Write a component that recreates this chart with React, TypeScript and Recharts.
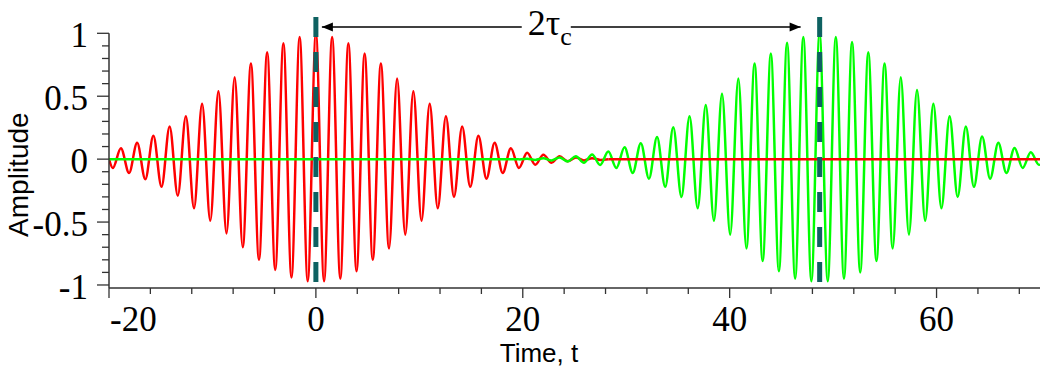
import { LineChart, Line, XAxis, YAxis, ReferenceLine } from "recharts";

// wave packet extrema (time, amplitude)
const redTime = [
  -20, -19.63, -18.85, -18.06, -17.28, -16.49, -15.71, -14.92, -14.14, -13.35, -12.57, -11.78, -11.0,
  -10.21, -9.42, -8.64, -7.85, -7.07, -6.28, -5.5, -4.71, -3.93, -3.14, -2.36, -1.57, -0.79, 0, 0.79,
  1.57, 2.36, 3.14, 3.93, 4.71, 5.5, 6.28, 7.07, 7.85, 8.64, 9.42, 10.21, 11.0, 11.78, 12.57, 13.35,
  14.14, 14.92, 15.71, 16.49, 17.28, 18.06, 18.85, 19.63, 20.42, 21.21, 21.99, 22.78, 23.56, 24.35,
  25.13, 25.92, 26.7, 27.49, 28.27,
];
const redAmp = [
  0, -0.07, 0.087, -0.11, 0.13, -0.16, 0.185, -0.22, 0.26, -0.29, 0.34, -0.39, 0.44, -0.49, 0.54,
  -0.59, 0.65, -0.7, 0.76, -0.8, 0.85, -0.88, 0.92, -0.94, 0.97, -0.97, 1.0, -0.97, 0.97, -0.95, 0.92,
  -0.89, 0.84, -0.8, 0.76, -0.71, 0.64, -0.6, 0.54, -0.49, 0.44, -0.39, 0.34, -0.3, 0.26, -0.22,
  0.185, -0.155, 0.13, -0.11, 0.087, -0.07, 0.05, -0.045, 0.035, -0.028, 0.022, -0.017, 0.013,
  -0.01, 0.008, -0.006, 0,
];
const greenTime = [
  19.63, 20.42, 21.2, 21.99, 22.77, 23.56, 24.34, 25.13, 25.91, 26.7, 27.48, 28.27, 29.05, 29.84,
  30.63, 31.41, 32.2, 32.98, 33.77, 34.55, 35.34, 36.12, 36.91, 37.69, 38.48, 39.26, 40.05, 40.84,
  41.62, 42.41, 43.19, 43.98, 44.76, 45.55, 46.33, 47.12, 47.9, 48.69, 49.48, 50.26, 51.05, 51.83,
  52.62, 53.4, 54.19, 54.97, 55.76, 56.54, 57.33, 58.11, 58.9, 59.69, 60.47, 61.26, 62.04, 62.83,
  63.61, 64.4, 65.18, 65.97, 66.75, 67.54, 68.32, 69.11, 69.9, 70,
];
const greenAmp = [
  -0.003, 0.004, -0.006, 0.008, -0.011, 0.014, -0.018, 0.023, -0.029, 0.037, -0.046, 0.06, -0.07,
  0.095, -0.11, 0.127, -0.155, 0.175, -0.22, 0.254, -0.3, 0.34, -0.39, 0.43, -0.49, 0.52, -0.6,
  0.64, -0.71, 0.76, -0.81, 0.84, -0.89, 0.925, -0.95, 0.97, -0.97, 1.0, -0.97, 0.97, -0.95, 0.93,
  -0.9, 0.85, -0.81, 0.76, -0.71, 0.65, -0.6, 0.55, -0.49, 0.44, -0.39, 0.34, -0.3, 0.26, -0.22,
  0.18, -0.155, 0.13, -0.11, 0.088, -0.07, 0.055, -0.045, -0.04,
];
// flat parts of each trace (drawn on top of the other wave)
const greenFlatTime = [-20, 19.63];
const greenFlatAmp = [0, 0];
const redFlatTime = [28.27, 70];
const redFlatAmp = [0, 0];

const xTicks = [-20, -16, -12, -8, -4, 0, 4, 8, 12, 16, 20, 24, 28, 32, 36, 40, 44, 48, 52, 56, 60, 64, 68];
const xMajor = [-20, 0, 20, 40, 60];
const yTicks = [-1, -0.9, -0.8, -0.7, -0.6, -0.5, -0.4, -0.3, -0.2, -0.1, 0, 0.1, 0.2, 0.3, 0.4, 0.5, 0.6, 0.7, 0.8, 0.9, 1];
const yMajor = [-1, -0.5, 0, 0.5, 1];

// annotation: pulse centres and the 2τc arrow
const centres = [0, 48.7];
const arrowLeft = [0.58, 19.9];
const arrowRight = [24.64, 46.86];

const zip = (t: number[], a: number[]) => t.map((v, i) => ({ t: v, a: a[i] }));

const serif = { fontFamily: '"Liberation Serif", "Times New Roman", "DejaVu Serif", serif' };
const sans = { fontFamily: '"Liberation Sans", Arial, sans-serif' };
const axisColor = "#333";

const XTick = (props: any) => {
  const { x, y, payload } = props;
  const v = payload.value;
  const major = xMajor.includes(v);
  return (
    <g>
      <line x1={x} x2={x} y1={y} y2={y + (major ? 10 : 6)} stroke={axisColor} strokeWidth={1.3} />
      {major && (
        <text
          x={v === -20 ? x + 1 : x}
          y={y + 43}
          textAnchor={v === -20 ? "start" : "middle"}
          style={serif}
          fontSize={35}
          fill="#000"
        >
          {String(v)}
        </text>
      )}
    </g>
  );
};

const YTick = (props: any) => {
  const { x, y, payload } = props;
  const v = payload.value;
  const major = yMajor.includes(v);
  return (
    <g>
      <line x1={x - (major ? 12 : 7)} x2={x} y1={y} y2={y} stroke={axisColor} strokeWidth={1.3} />
      {major && (
        <text x={x - 21} y={y + 14} textAnchor="end" style={serif} fontSize={35} fill="#000">
          {String(v)}
        </text>
      )}
    </g>
  );
};

const arrowShape = (head: "start" | "end", withText: boolean) => (p: any) => {
  const { x1, y1, x2 } = p;
  const tip = head === "start" ? x1 : x2;
  const dir = head === "start" ? 1 : -1;
  return (
    <g>
      <line x1={x1} x2={x2} y1={y1} y2={y1} stroke="#000" strokeWidth={1.5} />
      <polygon points={`${tip},${y1} ${tip + dir * 11},${y1 - 4.5} ${tip + dir * 11},${y1 + 4.5}`} fill="#000" />
      {withText && (
        <text x={x2 + 6} y={y1 + 8} style={serif} fontSize={36} fill="#000">
          2τ
          <tspan fontSize={26} dy={10}>
            c
          </tspan>
        </text>
      )}
    </g>
  );
};

const lineProps = { dataKey: "a", strokeWidth: 2.5, dot: false, activeDot: false, isAnimationActive: false } as const;

export default function App() {
  return (
    <div style={{ position: "absolute", left: 0, top: 0, width: 1048, height: 371, background: "#fff" }}>
      <LineChart width={1048} height={371} margin={{ top: 33.3, right: 8, bottom: 0, left: 0 }}>
        <XAxis
          dataKey="t"
          type="number"
          domain={[-20, 70]}
          allowDataOverflow
          ticks={xTicks}
          interval={0}
          tickSize={0}
          tickMargin={0}
          tickLine={false}
          tick={XTick}
          height={83}
          axisLine={{ stroke: axisColor, strokeWidth: 1.5 }}
          label={(p: any) => (
            <text
              x={p.viewBox.x + 430}
              y={p.viewBox.y + 74}
              textAnchor="middle"
              style={sans}
              fontSize={26}
              fill="#000"
            >
              Time, t
            </text>
          )}
        />
        <YAxis
          type="number"
          domain={[-1.024, 1]}
          allowDataOverflow
          ticks={yTicks}
          interval={0}
          tickSize={0}
          tickMargin={0}
          tickLine={false}
          tick={YTick}
          width={109}
          axisLine={{ stroke: axisColor, strokeWidth: 1.5 }}
          label={(p: any) => {
            const cx = p.viewBox.x + 28;
            const cy = p.viewBox.y + p.viewBox.height / 2 + 14;
            return (
              <text
                x={cx}
                y={cy}
                transform={`rotate(-90 ${cx} ${cy})`}
                textAnchor="middle"
                style={sans}
                fontSize={28}
                fill="#000"
              >
                Amplitude
              </text>
            );
          }}
        />
        <Line {...lineProps} data={zip(redTime, redAmp)} type="monotone" stroke="#ff0000" />
        <Line {...lineProps} data={zip(greenTime, greenAmp)} type="monotone" stroke="#00ff00" />
        <Line {...lineProps} data={zip(greenFlatTime, greenFlatAmp)} type="linear" stroke="#00ff00" />
        <Line {...lineProps} data={zip(redFlatTime, redFlatAmp)} type="linear" stroke="#ff0000" />
        {centres.map((c) => (
          <ReferenceLine
            key={c}
            segment={[{ x: c, y: 1.13 }, { x: c, y: -0.98 }]}
            ifOverflow="visible"
            stroke="#0e6161"
            strokeWidth={5}
            strokeDasharray="20 15"
          />
        ))}
        <ReferenceLine
          segment={[{ x: arrowLeft[0], y: 1.05 }, { x: arrowLeft[1], y: 1.05 }]}
          ifOverflow="visible"
          shape={arrowShape("start", true)}
        />
        <ReferenceLine
          segment={[{ x: arrowRight[0], y: 1.05 }, { x: arrowRight[1], y: 1.05 }]}
          ifOverflow="visible"
          shape={arrowShape("end", false)}
        />
      </LineChart>
    </div>
  );
}
